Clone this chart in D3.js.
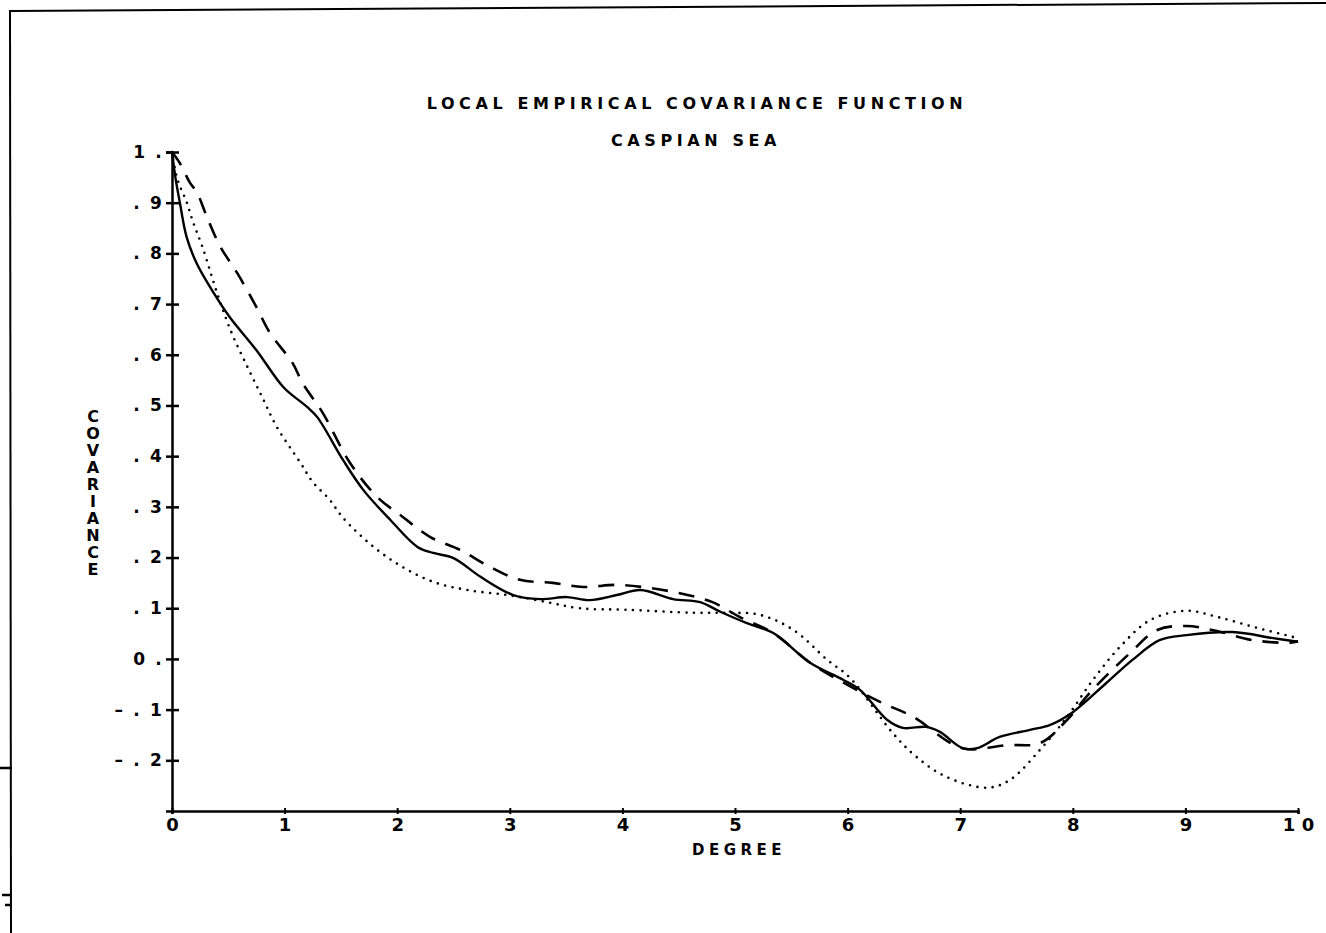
<!DOCTYPE html>
<html>
<head>
<meta charset="utf-8">
<script src="https://cdn.jsdelivr.net/npm/d3@7"></script>
<style>
  html, body { margin: 0; padding: 0; background: #fff; }
  svg { display: block; }
  text { font-family: "DejaVu Sans", "Liberation Sans", sans-serif; font-weight: bold; fill: #000; }
</style>
</head>
<body>
<svg id="chart" width="1326" height="933"></svg>
<script>
const titleLines = ["LOCAL EMPIRICAL COVARIANCE FUNCTION", "CASPIAN SEA"];
const xLabel = "DEGREE";
const yLabel = "COVARIANCE";

const xTicks = [0, 1, 2, 3, 4, 5, 6, 7, 8, 9, 10];
const xTickLabels = ["0", "1", "2", "3", "4", "5", "6", "7", "8", "9", "1 0"];
const yTicks = [1, 0.9, 0.8, 0.7, 0.6, 0.5, 0.4, 0.3, 0.2, 0.1, 0, -0.1, -0.2];
const yTickLabels = ["1 .", ". 9", ". 8", ". 7", ". 6", ". 5", ". 4", ". 3", ". 2", ". 1", "0 .", "– . 1", "– . 2"];

const solidX = [0, 0.03, 0.07, 0.13, 0.22, 0.37, 0.51, 0.75, 0.99, 1.2, 1.29, 1.52, 1.70, 1.94, 2.18, 2.32, 2.50, 2.74, 3.03, 3.27, 3.51, 3.71, 3.95, 4.16, 4.45, 4.69, 4.87, 5.1, 5.34, 5.67, 5.96, 6.11, 6.35, 6.49, 6.70, 6.82, 7.02, 7.15, 7.35, 7.62, 7.8, 8.0, 8.3, 8.53, 8.77, 9.01, 9.42, 9.78, 10];
const solidY = [1.0, 0.95, 0.9, 0.832, 0.78, 0.722, 0.675, 0.609, 0.536, 0.497, 0.477, 0.392, 0.333, 0.274, 0.221, 0.209, 0.199, 0.162, 0.126, 0.118, 0.122, 0.116, 0.126, 0.136, 0.118, 0.112, 0.093, 0.071, 0.051, -0.008, -0.041, -0.061, -0.12, -0.136, -0.134, -0.144, -0.176, -0.176, -0.154, -0.14, -0.13, -0.105, -0.047, -0.002, 0.037, 0.047, 0.053, 0.041, 0.034];

const dashedX = [0, 0.07, 0.16, 0.22, 0.31, 0.43, 0.58, 0.75, 0.87, 1.07, 1.16, 1.34, 1.58, 1.82, 2.05, 2.29, 2.56, 2.82, 3.09, 3.38, 3.65, 3.95, 4.24, 4.54, 4.8, 5.04, 5.34, 5.67, 6.08, 6.31, 6.58, 7.02, 7.42, 7.71, 7.95, 8.15, 8.51, 8.75, 9.01, 9.28, 9.6, 9.93, 10];
const dashedY = [1.0, 0.978, 0.939, 0.921, 0.872, 0.813, 0.761, 0.694, 0.643, 0.584, 0.544, 0.485, 0.387, 0.32, 0.28, 0.241, 0.215, 0.182, 0.156, 0.15, 0.142, 0.146, 0.14, 0.128, 0.112, 0.083, 0.051, -0.008, -0.061, -0.087, -0.114, -0.176, -0.17, -0.166, -0.12, -0.067, 0.012, 0.057, 0.065, 0.055, 0.037, 0.032, 0.035];

const dottedX = [0, 0.05, 0.13, 0.19, 0.27, 0.40, 0.53, 0.67, 0.80, 0.93, 1.14, 1.25, 1.40, 1.52, 1.79, 2.05, 2.32, 2.62, 2.98, 3.33, 3.62, 4.04, 4.63, 4.93, 5.22, 5.52, 5.82, 6.02, 6.40, 6.61, 6.88, 7.24, 7.44, 7.71, 7.95, 8.18, 8.42, 8.69, 9.01, 9.28, 9.64, 10];
const dottedY = [1.0, 0.945, 0.901, 0.86, 0.813, 0.722, 0.643, 0.576, 0.517, 0.458, 0.387, 0.349, 0.314, 0.278, 0.221, 0.181, 0.152, 0.136, 0.126, 0.112, 0.1, 0.097, 0.091, 0.091, 0.087, 0.057, -0.002, -0.037, -0.146, -0.193, -0.233, -0.254, -0.239, -0.179, -0.114, -0.041, 0.024, 0.077, 0.095, 0.083, 0.061, 0.041];

const svg = d3.select("#chart");

// page frame (scanned sheet edges)
svg.append("line").attr("x1", 10).attr("y1", 11).attr("x2", 1326).attr("y2", 3)
  .attr("stroke", "#000").attr("stroke-width", 2);
svg.append("line").attr("x1", 10).attr("y1", 10).attr("x2", 11).attr("y2", 933)
  .attr("stroke", "#000").attr("stroke-width", 2);
[[768, 0], [895, 2], [905, 5]].forEach(([yy, x0]) => {
  svg.append("line").attr("x1", x0).attr("y1", yy).attr("x2", 12).attr("y2", yy)
    .attr("stroke", "#000").attr("stroke-width", 2.5);
});

const x = d3.scaleLinear().domain([0, 10]).range([172, 1298]);
const y = d3.scaleLinear().domain([-0.3, 1]).range([811, 152]);

// Title
svg.append("text").attr("x", 697).attr("y", 109).attr("text-anchor", "middle")
  .attr("font-size", 16).attr("letter-spacing", 4.6).text(titleLines[0]);
svg.append("text").attr("x", 696).attr("y", 146).attr("text-anchor", "middle")
  .attr("font-size", 16).attr("letter-spacing", 4.6).text(titleLines[1]);

// Y axis
const yAxis = d3.axisLeft(y).tickValues(yTicks).tickSize(6).tickPadding(2)
  .tickFormat((d, i) => yTickLabels[i]);
const gy = svg.append("g").attr("transform", `translate(${x(0)},0)`).call(yAxis);
gy.select(".domain").attr("stroke", "#000").attr("stroke-width", 2.5);
gy.selectAll(".tick line").attr("x1", -6).attr("x2", 7).attr("stroke", "#000").attr("stroke-width", 2.5);
gy.selectAll(".tick text").attr("font-size", 17).attr("font-weight", "bold")
  .attr("font-family", "DejaVu Sans, sans-serif").attr("letter-spacing", 2.2).attr("fill", "#000");

// X axis
const xAxis = d3.axisBottom(x).tickValues(xTicks).tickSize(3).tickPadding(4)
  .tickFormat((d, i) => xTickLabels[i]);
const gx = svg.append("g").attr("transform", `translate(0,${y(-0.3)})`).call(xAxis);
gx.select(".domain").attr("stroke", "#000").attr("stroke-width", 2.5);
gx.selectAll(".tick line").attr("y1", -3).attr("y2", 3).attr("stroke", "#000").attr("stroke-width", 2);
gx.selectAll(".tick text").attr("font-size", 18).attr("font-weight", "bold")
  .attr("font-family", "'DejaVu Sans Condensed', 'Liberation Sans Narrow', sans-serif")
  .attr("fill", "#000");

// Axis titles
svg.append("text").attr("x", 739).attr("y", 855).attr("text-anchor", "middle")
  .attr("font-size", 15).attr("letter-spacing", 4.5).text(xLabel);
const yl = svg.append("g");
yLabel.split("").forEach((ch, i) => {
  yl.append("text").attr("x", 93).attr("y", 422 + i * 17).attr("text-anchor", "middle")
    .attr("font-size", 16).text(ch);
});

// Curves
const line = d3.line().x(d => x(d[0])).y(d => y(d[1])).curve(d3.curveCatmullRom.alpha(0.5));
const zip = (a, b) => a.map((v, i) => [v, b[i]]);

svg.append("path").datum(zip(dottedX, dottedY)).attr("d", line)
  .attr("fill", "none").attr("stroke", "#000").attr("stroke-width", 2.6)
  .attr("stroke-linecap", "round").attr("stroke-dasharray", "0 7.6");
svg.append("path").datum(zip(dashedX, dashedY)).attr("d", line)
  .attr("fill", "none").attr("stroke", "#000").attr("stroke-width", 2.6)
  .attr("stroke-dasharray", "16 11");
svg.append("path").datum(zip(solidX, solidY)).attr("d", line)
  .attr("fill", "none").attr("stroke", "#000").attr("stroke-width", 2.4);
</script>
</body>
</html>
